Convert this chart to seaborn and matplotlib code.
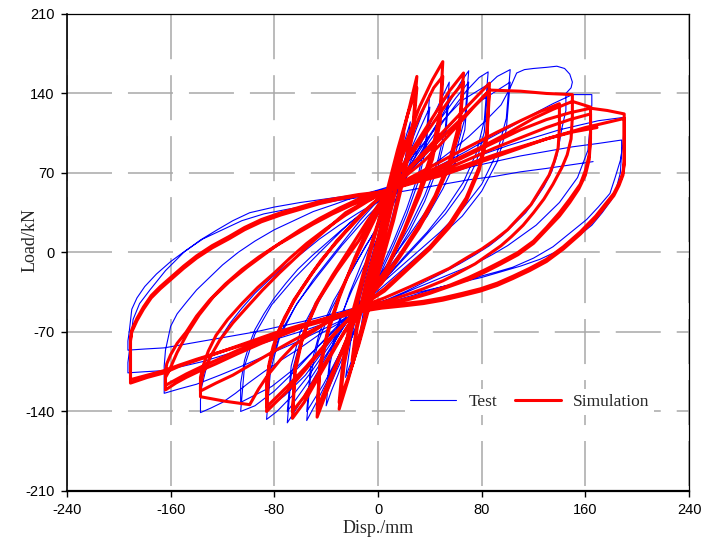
import matplotlib
matplotlib.use("Agg")
import matplotlib.pyplot as plt
import seaborn as sns

# ---------------- data ----------------
x_ticks = [-240, -160, -80, 0, 80, 160, 240]
y_ticks = [-210, -140, -70, 0, 70, 140, 210]
x_label = "Disp./mm"
y_label = "Load/kN"
series_names = ["Test", "Simulation"]

# Simulation hysteresis path (displacement, mm)
sim_disp = [
    0, 5, 10,
    6, 0, -5, -10,
    -6, 0, 5, 10,
    6, 0, -5, -10,
    -6, 0, 6, 13, 20,
    16, 9, 2, -6, -13, -20,
    -16, -9, -2, 6, 13, 20,
    16, 9, 2, -6, -13, -20,
    -16, -9, 0, 8, 16, 23, 30,
    27, 20, 12, 3, -6, -15, -23, -30,
    -26, -19, -11, -3, 6, 15, 23, 30,
    27, 20, 12, 3, -6, -15, -23, -30,
    -27, -21, -13, -4, 8, 20, 32, 42, 50,
    48, 42, 32, 20, 6, -14, -27, -38, -47,
    -45, -39, -30, -18, -5, 8, 20, 33, 43, 50,
    48, 42, 32, 20, 6, -14, -27, -38, -47,
    -45, -38, -28, -15, -3, 8, 25, 40, 55, 66,
    63, 55, 44, 32, 18, 3, -14, -30, -45, -57, -66,
    -64, -58, -48, -35, -22, -8, 8, 25, 42, 56, 66,
    63, 55, 44, 32, 18, 3, -14, -30, -45, -57, -66,
    -64, -57, -46, -32, -15, -2, 8, 30, 50, 70, 86,
    84, 78, 68, 55, 40, 22, 5, -14, -35, -55, -70, -86,
    -84, -77, -65, -50, -32, -12, 8, 30, 50, 70, 86,
    84, 78, 68, 55, 40, 22, 5, -14, -35, -55, -70, -86,
    -86, -84, -81, -77, -72, -66, -59, -52, -44, -35, -25, -15, -4, 8, 22, 35, 48, 60, 73, 86, 110, 130, 150,
    150, 149, 146, 142, 135, 128, 120, 112, 103, 95, 85, 75, 62, 50, 35, 20, 3, -14, -27, -40, -52, -65, -75, -85, -92, -99, -118, -137,
    -137, -135, -129, -122, -112, -101, -89, -76, -63, -50, -37, -25, -8, 8, 25, 40, 58, 75, 92, 110, 125, 140,
    140, 139, 136, 132, 125, 118, 109, 100, 90, 80, 68, 55, 40, 25, 5, -14, -32, -50, -68, -85, -100, -112, -125, -137,
    -137, -135, -131, -125, -116, -105, -93, -80, -68, -55, -40, -25, -8, 8, 25, 40, 60, 80, 100, 120, 135, 150, 164,
    164, 163, 160, 156, 148, 140, 130, 120, 108, 95, 83, 70, 55, 40, 25, 10, -2, -14, -32, -50, -70, -90, -108, -125, -137, -148, -156, -164,
    -164, -162, -160, -155, -147, -138, -127, -115, -101, -88, -76, -60, -45, -30, -15, -3, 8, 30, 50, 70, 90, 110, 130, 148, 164,
    164, 163, 160, 155, 148, 140, 130, 120, 108, 95, 83, 70, 55, 40, 25, 10, -2, -14, -32, -50, -70, -90, -108, -125, -137, -148, -156, -164,
    -164, -163, -160, -155, -148, -140, -130, -118, -105, -92, -80, -65, -50, -35, -20, -5, 8, 30, 50, 70, 90, 110, 130, 148, 164, 177, 190,
    190, 189, 186, 182, 175, 168, 162, 156, 143, 130, 117, 104, 92, 79, 65, 50, 35, 20, 3, -14, -37, -60, -80, -100, -120, -140, -153, -165, -178, -191,
    -191, -190, -188, -186, -181, -175, -168, -160, -150, -140, -128, -115, -103, -90, -75, -60, -45, -30, -15, 0, 8, 30, 50, 70, 90, 110, 130, 145, 160, 175, 190,
    190, 189, 186, 182, 175, 168, 162, 156, 143, 130, 117, 104, 92, 79, 65, 50, 35, 20, 3, -14, -37, -60, -80, -100, -120, -140, -153, -165, -178, -191,
    -191, -190, -188, -186, -181, -175, -168, -160, -150, -140, -128, -115, -103, -90, -75, -60, -45, -30, -15, 0, 8, 30, 50, 70, 90, 110, 130, 150, 169,
]
# Simulation hysteresis path (load, kN)
sim_load = [
    0, 30, 58,
    32, 2, -27, -55,
    -30, -2, 28, 56,
    30, 0, -27, -53,
    -25, 5, 38, 72, 105,
    72, 38, 3, -38, -70, -100,
    -66, -32, 2, 40, 72, 98,
    66, 32, -2, -38, -68, -95,
    -60, -25, 12, 48, 88, 122, 155,
    112, 72, 32, -5, -42, -80, -112, -138,
    -98, -60, -22, 12, 50, 90, 122, 145,
    105, 66, 28, -8, -45, -82, -110, -132,
    -95, -58, -25, 12, 55, 92, 128, 152, 168,
    125, 90, 55, 20, -15, -48, -85, -118, -145,
    -105, -72, -40, -5, 28, 55, 88, 122, 145, 155,
    115, 82, 50, 18, -17, -48, -84, -113, -138,
    -100, -65, -32, 0, 28, 55, 88, 115, 142, 158,
    115, 80, 50, 25, 0, -25, -48, -78, -108, -132, -146,
    -105, -74, -45, -20, 3, 28, 55, 85, 113, 136, 150,
    108, 76, 47, 22, -2, -27, -48, -77, -105, -127, -140,
    -100, -70, -42, -17, 10, 35, 55, 82, 106, 130, 149,
    105, 75, 48, 25, 5, -14, -32, -48, -74, -102, -122, -140,
    -100, -70, -42, -17, 10, 35, 55, 80, 102, 124, 142,
    100, 72, 45, 22, 3, -16, -34, -48, -73, -100, -118, -136,
    -115, -98, -83, -70, -57, -45, -32, -20, -7, 5, 18, 30, 43, 55, 68, 80, 95, 110, 127, 143, 142, 140, 139,
    120, 100, 86, 75, 60, 47, 35, 24, 14, 6, -2, -10, -18, -25, -32, -38, -44, -48, -54, -62, -71, -82, -94, -108, -120, -134, -131, -127,
    -118, -106, -91, -77, -62, -48, -33, -18, -4, 10, 23, 35, 46, 55, 66, 75, 86, 96, 106, 116, 124, 131,
    110, 92, 80, 68, 55, 42, 31, 20, 11, 3, -5, -14, -22, -30, -40, -48, -57, -68, -79, -90, -100, -108, -115, -122,
    -110, -100, -87, -73, -59, -45, -31, -18, -5, 8, 21, 33, 45, 55, 64, 72, 82, 93, 105, 118, 126, 133, 128,
    105, 86, 72, 60, 47, 35, 22, 10, 0, -8, -15, -22, -29, -35, -40, -44, -47, -49, -55, -62, -71, -80, -89, -98, -104, -110, -115, -121,
    -110, -106, -101, -88, -71, -55, -39, -26, -13, -2, 8, 20, 30, 39, 47, 52, 55, 64, 72, 82, 92, 101, 110, 117, 122,
    100, 82, 68, 56, 44, 32, 20, 8, -2, -10, -17, -24, -30, -36, -41, -45, -48, -50, -56, -62, -70, -78, -86, -95, -101, -107, -112, -117,
    -105, -98, -90, -80, -70, -56, -42, -28, -15, -4, 5, 15, 25, 34, 42, 49, 55, 65, 75, 86, 97, 108, 117, 123, 127, 125, 122,
    80, 70, 61, 52, 42, 32, 25, 18, 5, -6, -14, -21, -27, -32, -36, -40, -43, -45, -47, -50, -57, -64, -71, -79, -87, -95, -100, -106, -110, -115,
    -78, -70, -65, -60, -50, -40, -32, -24, -14, -5, 4, 12, 20, 27, 33, 38, 43, 47, 50, 52, 55, 62, 68, 76, 84, 92, 100, 105, 110, 114, 118,
    78, 68, 59, 50, 40, 30, 23, 16, 3, -8, -16, -23, -29, -34, -38, -42, -45, -47, -49, -52, -59, -66, -73, -80, -87, -94, -99, -104, -108, -112,
    -76, -68, -63, -58, -48, -38, -30, -22, -12, -3, 6, 14, 22, 29, 35, 40, 45, 48, 51, 53, 55, 63, 70, 78, 86, 93, 100, 106, 110,
]

# Test hysteresis path (displacement, mm)
test_disp = [
    0, 4, 8,
    5, 0, -4, -8,
    -5, 0, 5, 10, 15,
    11, 6, 0, -5, -10, -15,
    -11, -6, 0, 7, 14, 20, 25,
    21, 15, 8, 1, -7, -14, -20, -25,
    -21, -15, -8, 0, 10, 20, 30, 36, 40,
    37, 31, 22, 12, 0, -12, -22, -31, -36, -40,
    -37, -31, -22, -12, 0, 12, 22, 32, 40,
    37, 31, 22, 12, 0, -12, -22, -32, -40,
    -37, -30, -20, -8, 5, 18, 30, 42, 50, 55,
    52, 46, 36, 24, 10, -5, -18, -30, -40, -48, -55,
    -52, -46, -36, -24, -10, 5, 18, 30, 42, 55,
    52, 46, 36, 24, 10, -5, -18, -30, -42, -55,
    -52, -45, -34, -20, -6, 8, 25, 40, 55, 64, 70,
    67, 60, 50, 38, 24, 8, -8, -25, -40, -52, -62, -70,
    -67, -60, -49, -36, -20, -4, 12, 30, 46, 60, 70,
    67, 60, 50, 38, 24, 8, -8, -25, -40, -55, -70,
    -67, -60, -48, -34, -18, -2, 15, 35, 52, 68, 78, 85,
    82, 76, 66, 52, 38, 20, 2, -16, -35, -52, -66, -78, -86,
    -83, -76, -64, -50, -32, -14, 5, 25, 45, 65, 85,
    82, 76, 66, 52, 36, 18, 0, -18, -38, -56, -72, -86,
    -83, -75, -62, -46, -28, -8, 12, 35, 58, 78, 92, 102,
    99, 92, 80, 65, 48, 28, 8, -15, -40, -62, -80, -95, -106,
    -103, -95, -82, -64, -45, -22, 5, 30, 55, 80, 102,
    99, 92, 80, 65, 48, 28, 8, -15, -40, -62, -82, -106,
    -106, -103, -99, -95, -88, -80, -71, -62, -51, -40, -28, -15, -2, 10, 25, 40, 55, 70, 83, 95, 102, 107, 113, 120, 130, 138, 144, 148, 150, 149, 145,
    145, 142, 140, 138, 134, 128, 121, 114, 105, 96, 86, 75, 63, 50, 36, 22, 6, -10, -28, -45, -60, -75, -88, -100, -110, -120, -129, -137,
    -137, -136, -133, -128, -122, -114, -105, -95, -84, -72, -58, -45, -30, -15, 0, 15, 32, 50, 68, 85, 103, 120, 135, 150, 165,
    165, 164, 162, 158, 154, 147, 140, 131, 122, 111, 100, 88, 75, 60, 45, 28, 12, -7, -25, -45, -65, -85, -105, -122, -140, -153, -165,
    -165, -164, -160, -155, -148, -140, -130, -120, -108, -95, -80, -65, -50, -32, -15, 3, 20, 40, 60, 80, 100, 120, 140, 155, 170, 190,
    190, 189, 187, 183, 179, 170, 161, 148, 135, 120, 104, 92, 79, 65, 50, 35, 20, 3, -15, -35, -55, -75, -95, -115, -135, -150, -165, -180, -193,
    -193, -192, -189, -184, -176, -164, -150, -137, -124, -112, -99, -80, -60, -35, -8, 10, 30, 50, 70, 90, 110, 130, 150, 170, 188,
    188, 187, 184, 180, 173, 165, 153, 140, 125, 110, 95, 80, 65, 50, 35, 20, 3, -15, -35, -55, -75, -95, -115, -135, -150, -165, -180, -193,
    -193, -192, -190, -186, -180, -171, -160, -148, -135, -120, -105, -88, -70, -50, -30, -10, 10, 30, 50, 70, 90, 110, 130, 148, 166,
]
# Test hysteresis path (load, kN)
test_load = [
    0, 25, 45,
    22, -3, -24, -45,
    -22, 5, 32, 58, 80,
    52, 25, -5, -32, -57, -80,
    -50, -22, 8, 42, 72, 96, 115,
    82, 50, 18, -12, -45, -72, -94, -110,
    -78, -45, -15, 15, 48, 80, 110, 128, 140,
    100, 68, 38, 10, -20, -50, -80, -108, -122, -135,
    -98, -66, -36, -8, 22, 52, 82, 108, 128,
    92, 62, 33, 6, -23, -52, -80, -104, -125,
    -90, -60, -33, -5, 25, 58, 88, 118, 138, 150,
    110, 80, 50, 22, -5, -32, -60, -90, -115, -133, -148,
    -108, -78, -50, -24, 5, 32, 62, 92, 118, 140,
    102, 74, 45, 18, -8, -35, -62, -90, -116, -140,
    -100, -70, -42, -15, 12, 40, 72, 102, 132, 150, 160,
    118, 88, 62, 38, 15, -10, -34, -62, -92, -116, -136, -150,
    -108, -78, -50, -24, 2, 28, 55, 86, 114, 136, 150,
    108, 80, 56, 32, 10, -14, -36, -63, -90, -116, -140,
    -100, -70, -44, -20, 5, 30, 58, 90, 118, 142, 154, 159,
    116, 88, 62, 38, 18, -4, -28, -50, -78, -106, -126, -140, -147,
    -104, -75, -48, -24, 2, 28, 52, 82, 110, 134, 148,
    106, 80, 56, 34, 14, -8, -30, -52, -80, -108, -126, -138,
    -98, -70, -44, -20, 6, 32, 55, 85, 115, 140, 155, 161,
    118, 88, 60, 38, 18, -2, -22, -45, -75, -102, -122, -135, -140,
    -100, -72, -46, -22, 0, 26, 50, 78, 108, 134, 150,
    108, 80, 54, 32, 14, -6, -26, -48, -76, -100, -118, -132,
    -115, -95, -80, -68, -54, -40, -27, -15, -3, 8, 20, 32, 43, 52, 63, 75, 88, 102, 116, 130, 145, 158, 161, 162, 163, 164, 162, 157, 150, 145, 140,
    125, 110, 97, 85, 71, 58, 46, 35, 25, 15, 6, -2, -10, -18, -26, -34, -42, -50, -61, -72, -84, -95, -105, -115, -124, -132, -137, -141,
    -130, -118, -104, -90, -76, -62, -49, -36, -24, -12, 0, 12, 24, 35, 45, 55, 67, 78, 89, 100, 111, 122, 131, 139, 139,
    130, 115, 90, 78, 66, 55, 44, 34, 24, 15, 6, -2, -10, -17, -24, -32, -40, -49, -58, -69, -80, -90, -100, -108, -116, -120, -124,
    -100, -86, -65, -54, -44, -33, -22, -11, 0, 10, 20, 28, 36, 43, 50, 56, 62, 70, 78, 86, 94, 101, 108, 112, 116, 119,
    112, 95, 81, 66, 52, 40, 29, 17, 5, -5, -13, -17, -21, -26, -30, -35, -40, -46, -52, -60, -68, -75, -82, -89, -96, -100, -104, -105, -106,
    -97, -88, -59, -45, -33, -16, 0, 11, 20, 28, 35, 40, 44, 48, 52, 57, 62, 68, 75, 80, 85, 89, 93, 96, 99,
    88, 70, 57, 46, 35, 24, 13, 2, -6, -12, -17, -22, -26, -30, -34, -38, -43, -48, -54, -60, -65, -70, -74, -78, -81, -84, -85, -86,
    -78, -70, -50, -40, -30, -19, -8, 2, 12, 20, 28, 34, 38, 42, 46, 49, 52, 56, 60, 64, 67, 71, 74, 77, 80,
]

assert len(sim_disp) == len(sim_load), (len(sim_disp), len(sim_load))
assert len(test_disp) == len(test_load), (len(test_disp), len(test_load))

# ---------------- styling ----------------
sns.set_style("white")
plt.rcParams["font.family"] = ["Liberation Sans", "DejaVu Sans"]
plt.rcParams["lines.scale_dashes"] = False
plt.rcParams["axes.unicode_minus"] = False

fig = plt.figure(figsize=(7.09, 5.39), dpi=100)
ax = fig.add_axes([0.0945, 0.0891, 0.8773, 0.885])

sns.lineplot(x=test_disp, y=test_load, sort=False, estimator=None,
             color="#0000ff", linewidth=0.8, label=series_names[0], ax=ax)
sns.lineplot(x=sim_disp, y=sim_load, sort=False, estimator=None,
             color="#ff0000", linewidth=2.2, label=series_names[1], ax=ax,
             solid_joinstyle="round")

ax.set_xlim(x_ticks[0], x_ticks[-1])
ax.set_ylim(y_ticks[0], y_ticks[-1])
ax.set_xticks(x_ticks)
ax.set_yticks(y_ticks)
ax.set_xticklabels([str(v) for v in x_ticks])
ax.set_yticklabels([str(v) for v in y_ticks])

ax.set_axisbelow(True)
ax.grid(axis="x", color="#a8a8a8", linewidth=1.1, linestyle=(40.3, (32.4, 11.5)))
ax.grid(axis="y", color="#a8a8a8", linewidth=1.1, linestyle=(0, (32.4, 11.5)))

for side, lw in (("left", 1.2), ("bottom", 1.6), ("top", 0.9), ("right", 0.9)):
    ax.spines[side].set_visible(True)
    ax.spines[side].set_color("black")
    ax.spines[side].set_linewidth(lw)

ax.tick_params(axis="both", which="major", bottom=True, left=True, direction="out",
               length=4, width=1, color="black", labelsize=10.5, pad=5,
               labelcolor="black")

serif = {"family": ["Liberation Serif", "DejaVu Serif"], "size": 13}
ax.set_xlabel(x_label, fontdict=serif)
ax.set_ylabel(y_label, fontdict=serif)
ax.xaxis.set_label_coords(0.5, -0.06)
ax.yaxis.set_label_coords(-0.045, 0.527)

leg = ax.legend(ncol=2, loc="center", bbox_to_anchor=(0.744, 0.1866),
                prop={"family": ["Liberation Serif", "DejaVu Serif"], "size": 12.5},
                frameon=True, facecolor="white", edgecolor="none", framealpha=1,
                handlelength=2.65, handletextpad=0.7, columnspacing=1.0,
                borderpad=0.3)

fig.savefig("out.png", dpi=100)
